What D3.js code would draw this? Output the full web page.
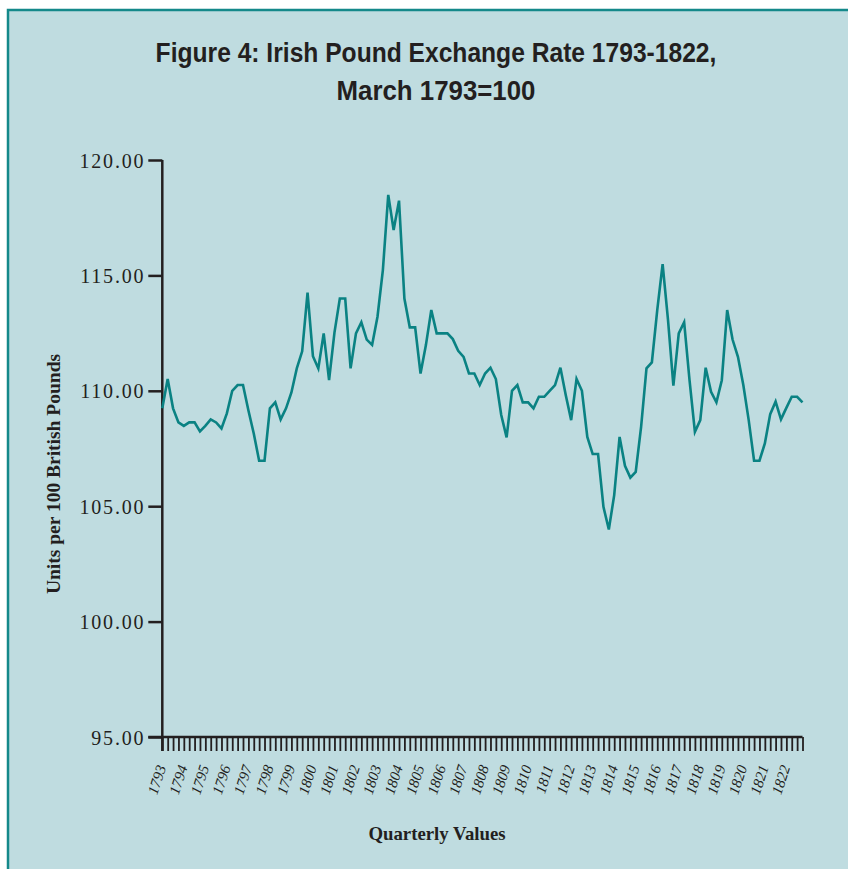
<!DOCTYPE html>
<html>
<head>
<meta charset="utf-8">
<script src="https://cdn.jsdelivr.net/npm/d3@7"></script>
<style>
  body { margin: 0; background: #ffffff; }
  svg { display: block; }
</style>
</head>
<body>
<div id="container"></div>
<script>
let w = 848;
let h = 869;

// data (quarterly, 1793 Q1 .. 1822 Q4)
let titleLines = ["Figure 4: Irish Pound Exchange Rate 1793-1822,", "March 1793=100"];
let yTicks = [95, 100, 105, 110, 115, 120];
let yearLabels = ["1793", "1794", "1795", "1796", "1797", "1798", "1799", "1800", "1801", "1802",
  "1803", "1804", "1805", "1806", "1807", "1808", "1809", "1810", "1811", "1812",
  "1813", "1814", "1815", "1816", "1817", "1818", "1819", "1820", "1821", "1822"];
let rates = [
  109.24, 110.51, 109.24, 108.63, 108.48, 108.63, 108.63, 108.24, 108.48, 108.76,
  108.63, 108.37, 109.02, 110.00, 110.25, 110.25, 109.16, 108.15, 106.97, 106.97,
  109.24, 109.50, 108.76, 109.24, 109.93, 110.97, 111.71, 114.25, 111.50, 110.97,
  112.49, 110.46, 112.52, 114.00, 114.00, 110.97, 112.49, 112.97, 112.22, 111.99,
  113.21, 115.23, 118.49, 116.97, 118.24, 114.00, 112.75, 112.75, 110.75, 111.98,
  113.50, 112.49, 112.49, 112.49, 112.24, 111.73, 111.47, 110.75, 110.75, 110.25,
  110.75, 111.00, 110.51, 108.95, 107.98, 110.00, 110.25, 109.50, 109.50, 109.24,
  109.74, 109.74, 110.00, 110.25, 111.00, 109.81, 108.73, 110.51, 110.00, 108.00,
  107.26, 107.26, 104.97, 103.99, 105.48, 108.00, 106.75, 106.24, 106.49, 108.44,
  110.97, 111.23, 113.50, 115.49, 113.07, 110.22, 112.49, 112.97, 110.46, 108.22,
  108.73, 111.00, 109.96, 109.50, 110.46, 113.50, 112.22, 111.47, 110.25, 108.73,
  106.97, 106.97, 107.72, 108.99, 109.53, 108.76, 109.26, 109.74, 109.74, 109.50
];

let ink = "#231f20";
let teal = "#0a8283";
let serif = "'Liberation Serif', 'DejaVu Serif', serif";

let viz = d3.select("#container")
  .append("svg")
  .attr("width", w)
  .attr("height", h)
  ;

// panel
viz.append("rect")
  .attr("x", 8)
  .attr("y", 10)
  .attr("width", w + 20)
  .attr("height", h + 20)
  .attr("fill", "#bfdce0")
  .attr("stroke", "#14898a")
  .attr("stroke-width", 2.5)
  ;

// title: tall condensed look, squeezed horizontally to the reference width
let titleWidths = [561, 199];
titleLines.forEach((t, i) => {
  let g = viz.append("g");
  let txt = g.append("text")
    .attr("x", 0)
    .attr("y", 0)
    .attr("text-anchor", "middle")
    .attr("font-family", "'Liberation Sans', 'DejaVu Sans', sans-serif")
    .attr("font-weight", "bold")
    .attr("font-size", 27)
    .attr("fill", ink)
    .text(t);
  let len = txt.node().getComputedTextLength();
  g.attr("transform", `translate(436,${62 + i * 38}) scale(${titleWidths[i] / len},1)`);
});

let x = d3.scaleLinear()
  .domain([0, rates.length - 1])
  .range([162.3, 802.5]);

let y = d3.scaleLinear()
  .domain([95, 120])
  .range([737, 160]);

// y axis
let yAxis = d3.axisLeft(y)
  .tickValues(yTicks)
  .tickSize(14)
  .tickPadding(3)
  .tickFormat(d3.format(".2f"));

let yG = viz.append("g")
  .attr("transform", `translate(${x(0)},0)`)
  .call(yAxis);

yG.select(".domain")
  .attr("stroke", ink)
  .attr("stroke-width", 2.5)
  .attr("d", `M0,${y(120)}V${y(95) + 14}`);
yG.selectAll(".tick line").attr("stroke", ink).attr("stroke-width", 2.5);
yG.selectAll(".tick text")
  .attr("fill", ink)
  .attr("font-family", serif)
  .attr("font-size", 20)
  .attr("letter-spacing", 1.8)
  .attr("dy", "0.35em");

// x axis: one tick per quarter
let xIdx = d3.range(rates.length);
let xAxis = d3.axisBottom(x)
  .tickValues(xIdx)
  .tickSize(14)
  .tickFormat("");

let xG = viz.append("g")
  .attr("transform", `translate(0,${y(95)})`)
  .call(xAxis);

xG.select(".domain")
  .attr("stroke", ink)
  .attr("stroke-width", 2.5)
  .attr("d", `M${x(0) - 14},0H${x(rates.length - 1)}`);
xG.selectAll(".tick line").attr("stroke", ink).attr("stroke-width", 1.8);

// year labels, rotated
viz.selectAll(".yearLabel").data(yearLabels).enter()
  .append("text")
  .attr("class", "yearLabel")
  .attr("text-anchor", "end")
  .attr("font-family", serif)
  .attr("font-style", "italic")
  .attr("font-size", 15)
  .attr("fill", ink)
  .attr("transform", (d, i) => `translate(${x(i * 4) + 4},${767}) rotate(-72)`)
  .text(d => d)
  ;

// axis titles
viz.append("text")
  .attr("x", 437)
  .attr("y", 840)
  .attr("text-anchor", "middle")
  .attr("font-family", serif)
  .attr("font-weight", "bold")
  .attr("font-size", 18.8)
  .attr("fill", ink)
  .text("Quarterly Values");

viz.append("text")
  .attr("transform", "translate(60,474) rotate(-90)")
  .attr("text-anchor", "middle")
  .attr("font-family", serif)
  .attr("font-weight", "bold")
  .attr("font-size", 19.5)
  .attr("fill", ink)
  .text("Units per 100 British Pounds");

// the series
let line = d3.line()
  .x((d, i) => x(i))
  .y(d => y(d));

viz.append("path")
  .datum(rates)
  .attr("d", line)
  .attr("fill", "none")
  .attr("stroke", teal)
  .attr("stroke-width", 2.6)
  .attr("stroke-linejoin", "miter")
  ;
</script>
</body>
</html>
